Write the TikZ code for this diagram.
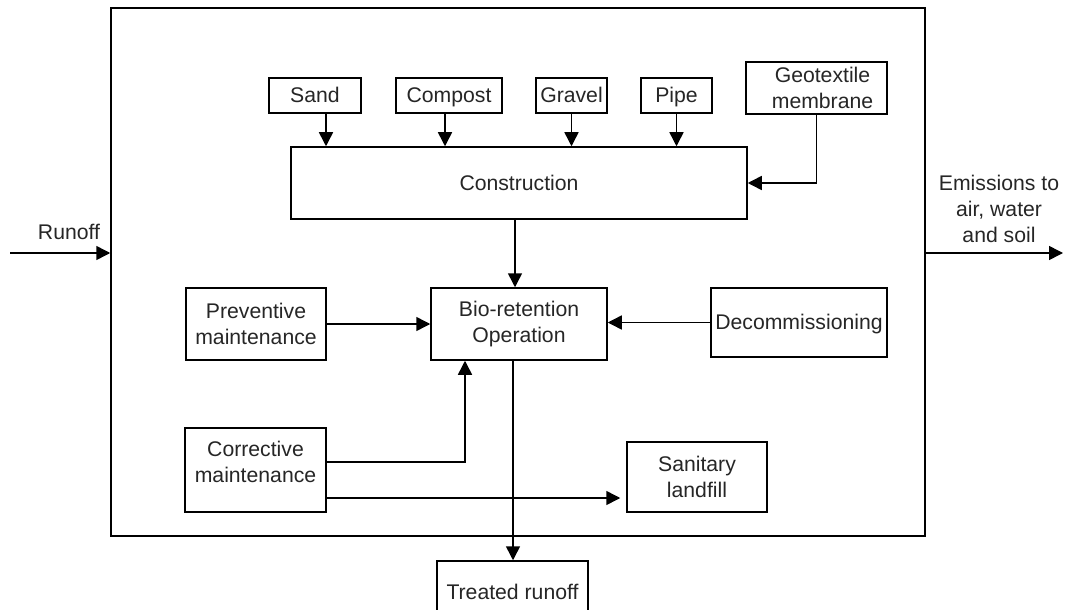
\documentclass[tikz,border=0pt]{standalone}
\usepackage{fontspec}
\setmainfont{Liberation Sans}
\usetikzlibrary{arrows.meta}
\begin{document}
\begin{tikzpicture}[x=0.5pt,y=-0.5pt,
  font=\fontsize{10.6}{13}\selectfont,
  box/.style={draw=black, line width=0.75pt, rectangle, inner sep=0pt, align=center, text=black!85},
  one/.style={text height=8.6pt, text depth=1.2pt},
  arr/.style={draw=black, line width=0.75pt, -{Triangle[length=7pt,width=7pt]}},
  plain/.style={align=center, text=black!85, inner sep=0pt}]
\clip (0,0) rectangle (1065,610);
\fill[white] (0,0) rectangle (1065,610);
% system boundary
\node[box, minimum width=407pt, minimum height=264pt] (sys) at (518,272) {};
% inputs
\node[box, one, minimum width=46pt, minimum height=17.5pt] (sand) at (315,95.5) {Sand};
\node[box, one, minimum width=53pt, minimum height=17.5pt] (compost) at (449,95.5) {Compost};
\node[box, one, minimum width=35.5pt, minimum height=17.5pt] (gravel) at (571.5,95.5) {Gravel};
\node[box, one, minimum width=35.5pt, minimum height=17.5pt] (pipe) at (676.5,95.5) {Pipe};
\node[box, minimum width=70.5pt, minimum height=26pt,
      label={[plain, xshift=3pt]center:{Geotextile\\membrane}}] (geo) at (816.5,88) {};
\node[box, one, minimum width=228pt, minimum height=36pt] (con) at (519,183) {Construction};
\node[box, minimum width=88pt, minimum height=36pt] (bio) at (519,324) {Bio-retention\\Operation};
\node[box, minimum width=70pt, minimum height=36pt] (prev) at (256,324) {Preventive\\maintenance};
\node[box, one, minimum width=88pt, minimum height=34.5pt] (decom) at (799,322.5) {Decommissioning};
\node[box, minimum width=70.5pt, minimum height=42pt,
      label={[plain, yshift=4pt]center:{Corrective\\maintenance}}] (corr) at (255.5,470) {};
\node[box, minimum width=70pt, minimum height=35pt] (san) at (697,477) {Sanitary\\landfill};
\node[box, one, minimum width=75.5pt, minimum height=31pt] (treated) at (512.5,592) {Treated runoff};
% outside labels
\node[plain] (runofflbl) at (69,232) {Runoff};
\node[plain] (emlbl) at (999,209) {Emissions to\\air, water\\and soil};
\coordinate (runin) at (10,253);
\coordinate (emout) at (1063,253);
% connectors
\draw[arr] (runin) -- (runin -| sys.west);
\draw[arr] (emout -| sys.east) -- (emout);
\draw[arr] ([xshift=5.5pt]sand.south) -- ([xshift=5.5pt]sand.south |- con.north);
\draw[arr] ([xshift=-2pt]compost.south) -- ([xshift=-2pt]compost.south |- con.north);
\draw[arr] (gravel.south) -- (gravel.south |- con.north);
\draw[arr] (pipe.south) -- (pipe.south |- con.north);
\draw[arr] (geo.south) |- (con.east);
\draw[arr] ([xshift=-2pt]con.south) -- ([xshift=-2pt]con.south |- bio.north);
\draw[arr] (prev.east) -- (prev.east -| bio.west);
\draw[arr] (decom.west) -- (decom.west -| bio.east);
\draw[arr] ([yshift=4pt]corr.east) -| ([xshift=-27pt]bio.south);
\draw[arr, shorten >=3pt] ([yshift=-14pt]corr.east) -- ([yshift=-14pt]corr.east -| san.west);
\draw[arr] ([xshift=-3pt]bio.south) -- ([xshift=-3pt]bio.south |- treated.north);
\end{tikzpicture}
\end{document}
